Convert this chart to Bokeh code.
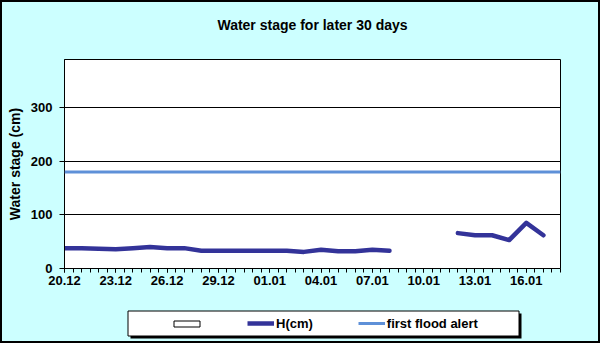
import numpy as np
from bokeh.plotting import figure
from bokeh.layouts import column
from bokeh.models import FixedTicker, Span, Range1d, Title, Legend, LegendItem
from bokeh.embed import file_html
from bokeh.resources import INLINE

# ---- data ----
dates = ["20.12", "21.12", "22.12", "23.12", "24.12", "25.12", "26.12", "27.12",
         "28.12", "29.12", "30.12", "31.12", "01.01", "02.01", "03.01", "04.01",
         "05.01", "06.01", "07.01", "08.01", "09.01", "10.01", "11.01", "12.01",
         "13.01", "14.01", "15.01", "16.01", "17.01"]
h_cm = [38, 38, 37, 36, 38, 40, 38, 38,
        33, 33, 33, 33, 33, 33, 31, 35,
        32, 32, 35, 33, np.nan, np.nan, np.nan, 66,
        62, 62, 53, 85, 62]
first_flood_alert = 180
tick_labels = ["20.12", "23.12", "26.12", "29.12", "01.01", "04.01",
               "07.01", "10.01", "13.01", "16.01"]
y_ticks = [0, 100, 200, 300]
y_max = 390

title_text = "Water stage for later 30 days"
y_label = "Water stage (cm)"
series_names = ["H(cm)", "first flood alert"]

# ---- styles ----
FONT = "Liberation Sans"
H_COLOR = "#333399"
ALERT_COLOR = "#5E90D8"
BG = "#CCFFFF"

W = 596            # inner width (2px css border on each side -> 600)
CH = 296           # chart figure height
LH = 43            # legend strip height
BL, BR = 62, 38    # left / right borders of the plot area
x_days = list(range(len(dates)))
x_end = len(dates)

p = figure(width=W, height=CH, output_backend="svg", toolbar_location=None,
           x_range=Range1d(0, x_end), y_range=Range1d(0, y_max),
           min_border_left=BL, min_border_right=BR, min_border_top=57, min_border_bottom=30,
           background_fill_color="white", border_fill_color=BG)
p.outline_line_color = "black"
p.outline_line_width = 1

# trailing blank line keeps the title high above the plot area
p.add_layout(Title(text=title_text + "\n ", align="center", standoff=22, offset=-4,
                   text_font=FONT, text_font_style="bold", text_font_size="14px",
                   text_color="black"), "above")

# grid
p.xgrid.visible = False
p.ygrid.ticker = FixedTicker(ticks=[t for t in y_ticks if t > 0])
p.ygrid.grid_line_color = "black"
p.ygrid.grid_line_width = 1

# axes
xa = p.xaxis[0]
major = [dates.index(t) for t in tick_labels]
xa.ticker = FixedTicker(ticks=major, minor_ticks=list(np.arange(0, x_end + 0.01, 0.5)))
xa.major_label_overrides = {m: t for m, t in zip(major, tick_labels)}
xa.major_tick_out = 4
xa.major_tick_in = 0
xa.minor_tick_out = 4
xa.minor_tick_in = 0
xa.major_label_standoff = 3
ya = p.yaxis[0]
ya.ticker = FixedTicker(ticks=y_ticks, minor_ticks=[])
ya.major_tick_out = 5
ya.major_tick_in = 0
ya.major_label_standoff = 7
ya.axis_label = y_label
ya.axis_label_standoff = 5
for ax in (xa, ya):
    ax.axis_line_color = "black"
    ax.major_tick_line_color = "black"
    ax.minor_tick_line_color = "black"
    ax.major_label_text_font = FONT
    ax.major_label_text_font_style = "bold"
    ax.major_label_text_font_size = "13px"
    ax.major_label_text_color = "black"
    ax.axis_label_text_font = FONT
    ax.axis_label_text_font_style = "bold"
    ax.axis_label_text_font_size = "14px"
    ax.axis_label_text_color = "black"

# data
p.add_layout(Span(location=first_flood_alert, dimension="width",
                  line_color=ALERT_COLOR, line_width=3))
p.line(x_days, h_cm, line_color=H_COLOR, line_width=4.5,
       line_join="round", line_cap="round")

# ---- legend strip (coordinates = page pixels, frame aligned with chart) ----
top = 2 + CH
lg = figure(width=W, height=LH, output_backend="svg", toolbar_location=None,
            x_range=Range1d(2 + BL, 2 + W - BR), y_range=Range1d(top + LH, top),
            min_border_left=BL, min_border_right=BR,
            min_border_top=0, min_border_bottom=0,
            background_fill_color=BG, border_fill_color=BG)
lg.axis.visible = False
lg.grid.visible = False
lg.outline_line_color = None

# shadow, box, empty marker
lg.quad(left=[130], right=[521], top=[313], bottom=[338], fill_color="black", line_color=None)
lg.quad(left=[127.5], right=[518.5], top=[310.5], bottom=[335.5], fill_color="white",
        line_color="black", line_width=1)
lg.quad(left=[173.5], right=[199.5], top=[320.5], bottom=[326.5], fill_color="white",
        line_color="black", line_width=1)

# legend sample renderers (kept outside the visible range)
r_h = lg.line([0, 1], [0, 0], line_color=H_COLOR, line_width=4.5)
r_a = lg.line([0, 1], [0, 0], line_color=ALERT_COLOR, line_width=3)
legend = Legend(items=[LegendItem(label=series_names[0], renderers=[r_h]),
                       LegendItem(label=series_names[1], renderers=[r_a])],
                location=(247 - (2 + BL), 8), orientation="horizontal",
                padding=0, margin=0, spacing=45, glyph_width=27, glyph_height=20,
                label_standoff=2, background_fill_alpha=0, border_line_alpha=0,
                label_text_font=FONT, label_text_font_style="bold",
                label_text_font_size="13px", label_text_color="black")
lg.add_layout(legend, "center")

layout = column(p, lg, spacing=0,
                styles={"border": "2px solid black", "background-color": BG})

open("out.html", "w").write(file_html(layout, INLINE))
